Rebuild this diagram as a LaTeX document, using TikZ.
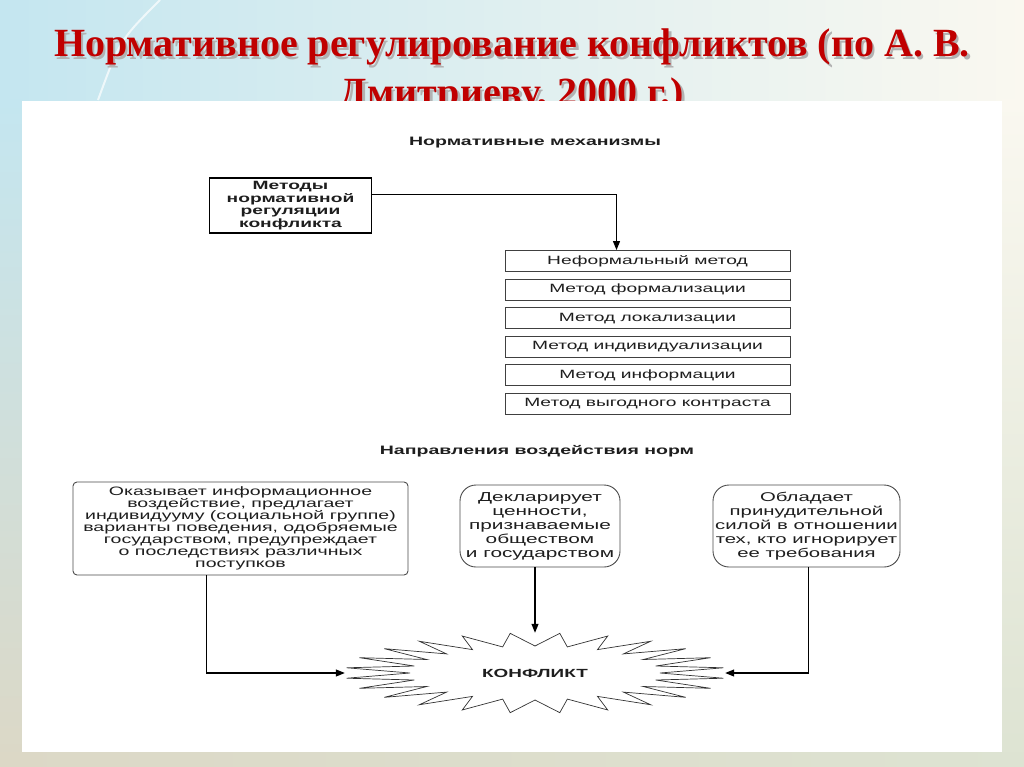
\documentclass[tikz,border=0pt]{standalone}
\usepackage{fontspec}
\setmainfont{Liberation Serif}
\newfontfamily\diagfont[FakeStretch=1.6]{Liberation Sans}
\usetikzlibrary{arrows.meta,calc}
\definecolor{slidered}{HTML}{C00000}
\definecolor{slidesky}{HTML}{C4E6F0}
\definecolor{slidecream}{HTML}{FAF8F0}
\definecolor{slidesand}{HTML}{DCD8C6}
\definecolor{slidesage}{HTML}{DDE3D2}
\definecolor{inkgray}{HTML}{1E1E1E}
% title line with a soft drop shadow
\newcommand{\shadowline}[1]{\leavevmode\rlap{\kern2.5pt\raisebox{-2.5pt}{\textcolor{black!30}{#1}}}#1}
\tikzset{
  ttl/.style={font=\bfseries\fontsize{40}{49}\selectfont,align=center,text=slidered},
  hdr/.style={font=\diagfont\bfseries\fontsize{12.2}{14}\selectfont,text=inkgray},
  meth/.style={draw=black!75,line width=0.9pt,minimum width=285pt,minimum height=21pt,inner sep=0pt,font=\diagfont\fontsize{12}{13}\selectfont,text=inkgray},
  lead/.style={draw=black,line width=1.4pt,minimum width=162pt,minimum height=55pt,inner sep=0pt,align=center,font=\diagfont\bfseries\fontsize{12}{12.6}\selectfont,text=inkgray},
  note/.style={draw=black!70,line width=0.9pt,inner sep=0pt,align=center,font=\diagfont\fontsize{12.2}{11.9}\selectfont,text=inkgray},
  tall/.style={note,rounded corners=16pt,minimum height=82pt,font=\diagfont\fontsize{13}{14}\selectfont},
  ar/.style={-{Triangle[length=9pt,width=7pt]},line width=1.1pt,draw=black},
  starline/.style={draw=black!80,line width=0.7pt,line join=miter},
}
\begin{document}
\begin{tikzpicture}[x=1pt,y=-1pt]
  \useasboundingbox (0,0) rectangle (1024,767);
  % slide background
  \shade[left color=slidesky,right color=slidecream] (0,0) rectangle (1024,767);
  \shade[top color=slidesky,bottom color=slidesand] (0,100) rectangle (22,767);
  \shade[top color=slidecream,bottom color=slidesage] (1002,100) rectangle (1024,767);
  \shade[left color=slidesand,right color=slidesage] (0,752) rectangle (1024,767);
  \draw[white,line width=2pt,opacity=.7] (160,0) .. controls (120,40) .. (98,100);
  % title
  \node[ttl] (title) at (512,73) {\shadowline{Нормативное регулирование конфликтов (по А. В.}\\\shadowline{Дмитриеву, 2000 г.)}};
  \fill[white] (22,101) rectangle (1002,752);

  % mechanisms
  \node[hdr] (mech) at (535,143) {Нормативные механизмы};
  \node[lead] (metody) at (290.5,205.5) {Методы\\нормативной\\регуляции\\конфликта};
  \foreach \n/\t in {1/Неформальный метод, 2/Метод формализации, 3/Метод локализации, 4/Метод индивидуализации, 5/Метод информации, 6/Метод выгодного контраста}
    \node[meth] (m\n) at (647.5,{261+(\n-1)*28.6}) {\t};
  \draw[ar] ([yshift=11pt]metody.east) -| ([xshift=-31pt]m1.north);

  % directions
  \node[hdr] (dirs) at (537,451) {Направления воздействия норм};
  \node[note,rounded corners=4pt,minimum width=335pt,minimum height=93pt] (infl) at (240.5,528.5) {Оказывает информационное\\воздействие, предлагает\\индивидууму (социальной группе)\\варианты поведения, одобряемые\\государством, предупреждает\\о последствиях различных\\поступков};
  \node[tall,minimum width=160pt] (decl) at (540,526) {Декларирует\\ценности,\\признаваемые\\обществом\\и государством};
  \node[tall,minimum width=187pt,font=\diagfont\fontsize{12.7}{14}\selectfont] (force) at (806.5,526) {Обладает\\принудительной\\силой в отношении\\тех, кто игнорирует\\ее требования};

  % conflict
  \node[font=\diagfont\bfseries\fontsize{11.8}{12}\selectfont,text=inkgray,minimum width=380pt,minimum height=80pt] (konflikt) at (535,673) {КОНФЛИКТ};
  \draw[starline] ($(konflikt)+({190*cos(7.5)},{40*sin(7.5)})$)
    \foreach \a in {15,30,...,345} { -- ($(konflikt)+({125*cos(\a)},{27*sin(\a)})$) -- ($(konflikt)+({190*cos(\a+7.5)},{40*sin(\a+7.5)})$) }
    -- ($(konflikt)+(125,0)$) -- cycle;
  \draw[ar] ([xshift=-34pt]infl.south) |- (konflikt.west);
  \draw[ar] (decl.south -| konflikt.north) -- (konflikt.north);
  \draw[ar] ([xshift=2pt]force.south) |- (konflikt.east);
\end{tikzpicture}
\end{document}
